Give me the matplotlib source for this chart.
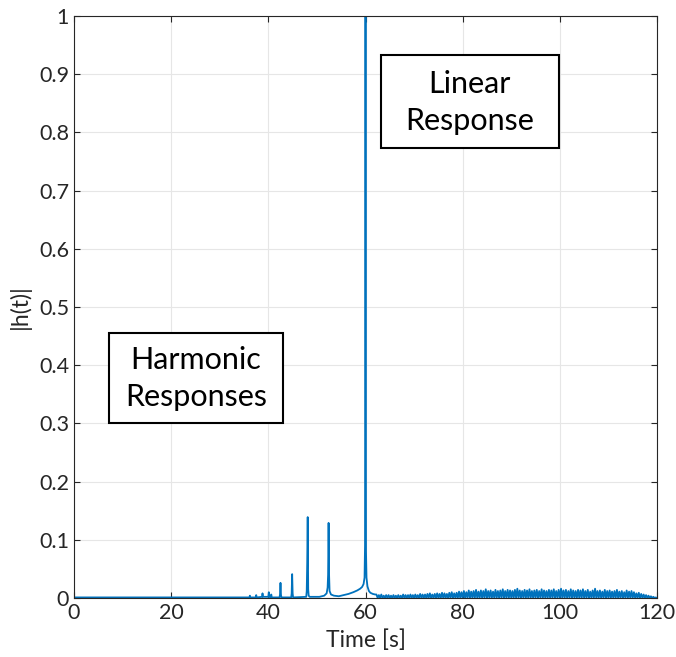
import matplotlib.pyplot as plt
from matplotlib.patches import Rectangle
import numpy as np

# flat start, harmonic spikes, linear response region (time [s], |h|)
head_t = [0.0, 35.8,
          36.1, 36.2, 36.3,
          37.4, 37.5, 37.6,
          38.7, 38.8, 38.9,
          40.0, 40.1, 40.2,
          40.5, 40.6, 40.7,
          42.3, 42.4, 42.5, 42.6, 42.7,
          44.7, 44.8, 44.9, 45.0, 45.1,
          47.8, 47.9, 48.0, 48.1, 48.2, 48.3, 48.5,
          50.5, 51.5, 52.0, 52.2, 52.3, 52.4, 52.5, 52.6, 52.9, 53.5,
          54.5, 55.5, 56.5, 57.5, 58.3, 58.9, 59.3, 59.6, 59.8, 59.9,
          60.0, 60.1, 60.2, 60.4, 60.7, 61.0, 61.5, 62.0]
head_h = [0.001, 0.001,
          0.001, 0.004, 0.001,
          0.001, 0.005, 0.001,
          0.002, 0.008, 0.002,
          0.002, 0.010, 0.002,
          0.001, 0.006, 0.001,
          0.001, 0.006, 0.026, 0.005, 0.001,
          0.001, 0.008, 0.041, 0.008, 0.001,
          0.002, 0.012, 0.060, 0.139, 0.015, 0.004, 0.002,
          0.002, 0.004, 0.008, 0.018, 0.040, 0.129, 0.040, 0.012, 0.006, 0.004,
          0.003, 0.005, 0.007, 0.010, 0.013, 0.016, 0.019, 0.024, 0.035, 0.090,
          1.000, 0.080, 0.035, 0.020, 0.012, 0.009, 0.007, 0.006]

# noise floor after 62 s: peak values every 0.5 s, dips between them
noise_start = 62.0
noise_top = [0.006, 0.005, 0.006, 0.004, 0.005, 0.005, 0.004, 0.005, 0.004, 0.005, 0.004, 0.006,
             0.005, 0.005, 0.006, 0.005,
             0.006, 0.005, 0.007, 0.006, 0.006, 0.007, 0.008, 0.006, 0.007, 0.008, 0.007, 0.009,
             0.008, 0.007, 0.009, 0.010, 0.008, 0.009, 0.011, 0.010,
             0.012, 0.010, 0.013, 0.011, 0.012, 0.014, 0.011, 0.013, 0.012, 0.015, 0.012, 0.013,
             0.011, 0.014, 0.012, 0.013, 0.015, 0.012, 0.014, 0.013,
             0.012, 0.014, 0.016, 0.013, 0.012, 0.014, 0.013, 0.015, 0.012, 0.013, 0.014, 0.012,
             0.015, 0.013, 0.012, 0.014, 0.013, 0.015, 0.012, 0.014,
             0.016, 0.013, 0.014, 0.012, 0.015, 0.013, 0.012, 0.014, 0.013, 0.015, 0.012, 0.014,
             0.011, 0.013, 0.016, 0.012, 0.013, 0.011, 0.014, 0.012,
             0.013, 0.011, 0.012, 0.014, 0.011, 0.012, 0.010, 0.013, 0.011, 0.012, 0.010, 0.008,
             0.009, 0.007, 0.006, 0.005, 0.004, 0.003, 0.002, 0.001]
noise_low = 0.0

n = len(noise_top)
tail_t = np.empty(2 * n)
tail_h = np.empty(2 * n)
tail_t[0::2] = noise_start + 0.5 * np.arange(n) + 0.25
tail_t[1::2] = noise_start + 0.5 * np.arange(n) + 0.5
tail_h[0::2] = noise_top
tail_h[1::2] = noise_low

t = np.concatenate([head_t, tail_t])
h = np.concatenate([head_h, tail_h])

plt.rcParams['font.family'] = ['Lato', 'DejaVu Sans']

fig = plt.figure(figsize=(6.76, 6.57), dpi=100)
ax = fig.add_axes([0.1095, 0.0898, 0.8624, 0.8858])
ax.plot(t, h, color='#0072BD', linewidth=1.3)

ax.set_xlim(0, 120)
ax.set_ylim(0, 1)
ax.set_xticks(np.arange(0, 121, 20))
ax.set_yticks(np.arange(0, 1.01, 0.1))
ax.set_yticklabels(['0', '0.1', '0.2', '0.3', '0.4', '0.5', '0.6', '0.7', '0.8', '0.9', '1'])
ax.grid(True, color='#e6e6e6', linewidth=0.8)
ax.set_axisbelow(True)
ax.tick_params(direction='in', labelsize=15.5, colors='#262626', length=4, top=True, right=True,
               labeltop=False, labelright=False)
for s in ax.spines.values():
    s.set_color('#262626')
    s.set_linewidth(0.8)
ax.set_xlabel('Time [s]', fontsize=16.5, color='#262626', labelpad=5)
ax.set_ylabel('|h(t)|', fontsize=16.5, color='#262626', labelpad=6)

# annotation boxes
ax.add_patch(Rectangle((0.5266, 0.7732), 0.3054, 0.1598, transform=ax.transAxes,
                       fill=True, facecolor='white', edgecolor='black', linewidth=1.5, zorder=5))
ax.text(0.679, 0.852, 'Linear\nResponse', transform=ax.transAxes, ha='center', va='center',
        fontsize=22, linespacing=1.38, zorder=6)
ax.add_patch(Rectangle((0.060, 0.3007), 0.2985, 0.1546, transform=ax.transAxes,
                       fill=True, facecolor='white', edgecolor='black', linewidth=1.5, zorder=5))
ax.text(0.2093, 0.377, 'Harmonic\nResponses', transform=ax.transAxes, ha='center', va='center',
        fontsize=22, linespacing=1.38, zorder=6)

fig.savefig('out.png', dpi=100)
